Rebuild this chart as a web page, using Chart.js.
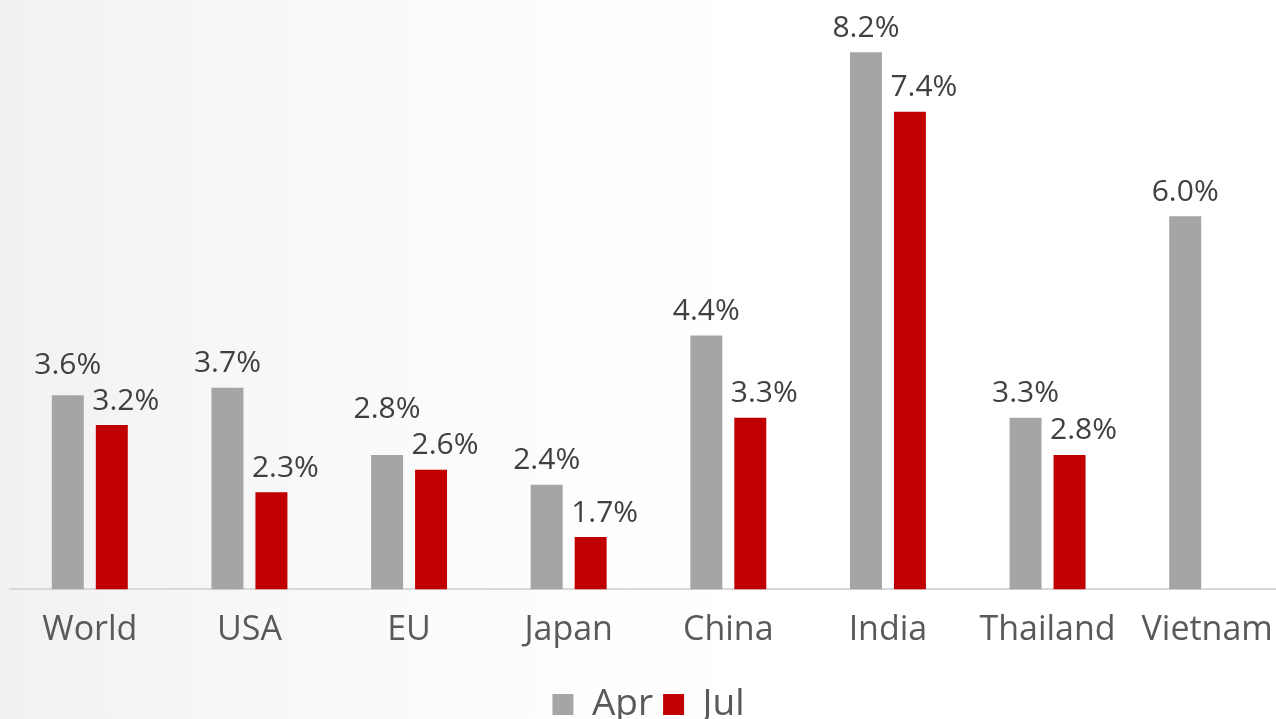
<!DOCTYPE html>
<html>
<head>
<meta charset="utf-8">
<script src="https://cdn.jsdelivr.net/npm/chart.js@4.4.1/dist/chart.umd.min.js"></script>
<style>
  html, body { margin: 0; padding: 0; overflow: hidden; }
  body {
    width: 1276px; height: 719px;
    background: linear-gradient(90deg, #f1f1f1 0%, #f7f7f7 18%, #fdfdfd 45%, #ffffff 60%);
  }
  #wrap { position: absolute; left: 0; top: 0; width: 1322px; height: 733px; }
</style>
</head>
<body>
<div id="wrap"><canvas id="grafico"></canvas></div>
<script>
// categorias y valores (%)
const paises = ["World", "USA", "EU", "Japan", "China", "India", "Thailand", "Vietnam"];
const abril = [3.6, 3.7, 2.8, 2.4, 4.4, 8.2, 3.3, 6.0];
const julio = [3.2, 2.3, 2.6, 1.7, 3.3, 7.4, 2.8, null];

// etiquetas encima de las barras (la gris sube si choca con la roja)
const etiquetas = {
    id: "etiquetas",
    afterDatasetsDraw(chart) {
        const ctx = chart.ctx;
        const gris = chart.getDatasetMeta(0).data;
        const roja = chart.getDatasetMeta(1).data;
        ctx.save();
        ctx.font = "30px 'Open Sans'";
        ctx.fillStyle = "#404040";
        ctx.textAlign = "center";
        ctx.textBaseline = "bottom";
        paises.forEach((p, j) => {
            let yr = null;
            if (julio[j] != null) {
                yr = roja[j].y - 9;
                ctx.fillText(julio[j].toFixed(1) + "%", roja[j].x + 14, yr);
            }
            let yg = gris[j].y - 9;
            if (yr != null && yg > yr - 30) yg = yr - 36;
            ctx.fillText(abril[j].toFixed(1) + "%", gris[j].x, yg);
        });
        ctx.restore();
    }
};

new Chart(document.getElementById("grafico"), {
    type: "bar",
    data: {
        labels: paises,
        datasets: [
            { label: "Apr", data: abril, backgroundColor: "#a5a5a5" },
            { label: "Jul", data: julio, backgroundColor: "#c00000" }
        ]
    },
    options: {
        responsive: true,
        maintainAspectRatio: false,
        animation: false,
        layout: { padding: { left: 10, right: 35, top: 0, bottom: 0 } },
        categoryPercentage: 0.551,
        barPercentage: 0.727,
        scales: {
            x: {
                grid: { display: false },
                border: { display: true, color: "#d9d9d9", width: 2 },
                ticks: { color: "#595959", font: { family: "Open Sans", size: 34 }, padding: 13 },
                afterFit(scale) { scale.height += 12; }
            },
            y: {
                display: false,
                min: 1,
                max: 8.9
            }
        },
        plugins: {
            legend: {
                position: "bottom",
                labels: {
                    color: "#595959",
                    font: { family: "Open Sans", size: 37 },
                    boxWidth: 21,
                    boxHeight: 21,
                    padding: 10
                }
            },
            tooltip: { enabled: false }
        }
    },
    plugins: [etiquetas]
});
</script>
</body>
</html>
